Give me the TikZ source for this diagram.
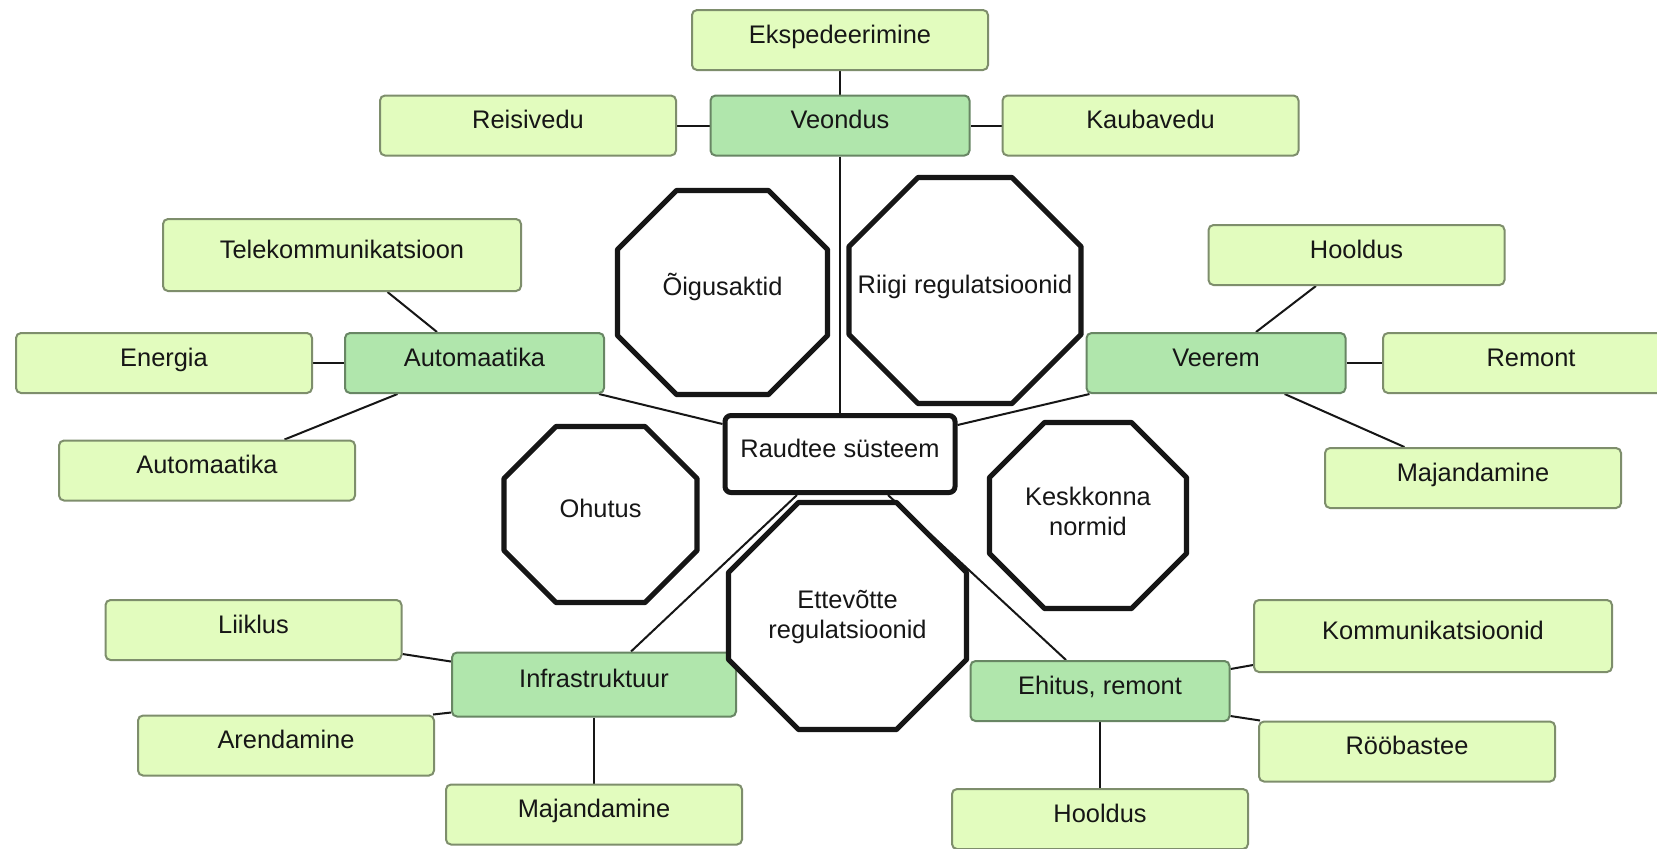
\documentclass[tikz,border=0pt]{standalone}
\usepackage{fontspec}
\setmainfont{Liberation Sans}
\usetikzlibrary{calc}

\definecolor{leafFill}{RGB}{226,252,190}
\definecolor{leafLine}{RGB}{126,142,108}
\definecolor{hubFill}{RGB}{176,230,172}
\definecolor{hubLine}{RGB}{104,134,100}
\definecolor{ink}{RGB}{22,22,22}

\pgfdeclarelayer{bg}
\pgfdeclarelayer{links}
\pgfdeclarelayer{boxes}
\pgfdeclarelayer{octs}
\pgfsetlayers{bg,links,boxes,octs,main}

\tikzset{
  every node/.style={font=\fontsize{12.7}{15}\selectfont, text=ink},
  onelinetext/.style={text height=9.3pt, text depth=5.9pt},
  leaf/.style={draw=leafLine, fill=leafFill, line width=1pt, rounded corners=2.5pt,
    inner sep=0pt, onelinetext, minimum width=#1, minimum height=30pt},
  leaf/.default=148pt,
  hub/.style={leaf=#1, draw=hubLine, fill=hubFill},
  hub/.default=129.5pt,
  tall/.style={minimum height=36pt},
  core/.style={draw=ink, fill=white, line width=2.5pt, rounded corners=3pt,
    inner sep=0pt, onelinetext, minimum width=115pt, minimum height=38.5pt},
  octnode/.style n args={2}{inner sep=0pt, outer sep=0pt, align=center,
    minimum width=#1, minimum height=#2},
  octline/.style={draw=ink, fill=white, line width=2.6pt, line join=round},
  link/.style={draw=ink, line width=1pt},
}

% octagonal frame around a named node, #2 = size of the cut corners
\newcommand\octframe[2]{%
  \begin{pgfonlayer}{octs}
    \path[octline]
      ([xshift=#2]#1.north west) -- ([xshift=-#2]#1.north east)
      -- ([yshift=-#2]#1.north east) -- ([yshift=#2]#1.south east)
      -- ([xshift=-#2]#1.south east) -- ([xshift=#2]#1.south west)
      -- ([yshift=#2]#1.south west) -- ([yshift=-#2]#1.north west) -- cycle;
  \end{pgfonlayer}}

\begin{document}
\begin{tikzpicture}[x=0.5pt, y=-0.5pt]
\useasboundingbox (0,0) rectangle (1657,848);
\begin{pgfonlayer}{bg}
  \fill[white] (0,0) rectangle (1657,848);
\end{pgfonlayer}

% ---- rectangular boxes ----
\begin{pgfonlayer}{boxes}
  % Veondus branch
  \node[leaf] (eksp) at (840,40) {Ekspedeerimine};
  \node[leaf] (reisi) at (528,125.5) {Reisivedu};
  \node[hub] (veondus) at (840,125.5) {Veondus};
  \node[leaf] (kauba) at (1150.5,125.5) {Kaubavedu};
  % Automaatika branch
  \node[leaf=179pt, tall] (tele) at (342,255) {Telekommunikatsioon};
  \node[leaf] (energia) at (164,363) {Energia};
  \node[hub] (autoD) at (474.5,363) {Automaatika};
  \node[leaf] (autoL) at (207,470.5) {Automaatika};
  % Veerem branch
  \node[leaf] (hoolT) at (1356.5,255) {Hooldus};
  \node[hub] (veerem) at (1216,363) {Veerem};
  \node[leaf] (remont) at (1531,363) {Remont};
  \node[leaf] (majR) at (1473,478) {Majandamine};
  % Infrastruktuur branch
  \node[leaf] (liiklus) at (253.5,630) {Liiklus};
  \node[hub=142pt, minimum height=32pt] (infra) at (594,684.5) {Infrastruktuur};
  \node[leaf] (arend) at (286,745.5) {Arendamine};
  \node[leaf] (majB) at (594,814.5) {Majandamine};
  % Ehitus branch
  \node[hub] (ehitus) at (1100,691) {Ehitus, remont};
  \node[leaf=179pt, tall] (komm) at (1433,636) {Kommunikatsioonid};
  \node[leaf] (roob) at (1407,751.5) {Rööbastee};
  \node[leaf] (hoolB) at (1100,819) {Hooldus};
\end{pgfonlayer}

% ---- centre ----
\node[core] (raud) at (840,454) {Raudtee süsteem};

% ---- octagons ----
\node[octnode={105pt}{102pt}, onelinetext] (oig) at (722.5,292.5) {Õigusaktid};
\octframe{oig}{29.5pt}
\node[octnode={116pt}{113pt}, onelinetext] (riigi) at (965,290.5) {Riigi regulatsioonid};
\octframe{riigi}{34.5pt}
\node[octnode={96.5pt}{88pt}, onelinetext] (ohutus) at (600.5,514.5) {Ohutus};
\octframe{ohutus}{26pt}
\node[octnode={98.5pt}{93pt}, text height=24.3pt, text depth=4.8pt] (kesk) at (1088,515.5) {Keskkonna\\normid};
\octframe{kesk}{27.5pt}
\node[octnode={119pt}{113.5pt}, text height=24.3pt, text depth=1.5pt] (ettev) at (847.5,616) {Ettevõtte\\regulatsioonid};
\octframe{ettev}{35pt}

% ---- connectors ----
\begin{pgfonlayer}{links}
  \draw[link] (eksp.south) -- (veondus.north);
  \draw[link] (reisi.east) -- (veondus.west);
  \draw[link] (kauba.west) -- (veondus.east);
  \draw[link] (veondus.south) -- (raud.north);

  \draw[link] ([xshift=22.75pt]tele.south) -- ([xshift=-18.75pt]autoD.north);
  \draw[link] (energia.east) -- (autoD.west);
  \draw[link] ([xshift=38.75pt]autoL.north) -- ([xshift=-38.5pt]autoD.south);
  \draw[link] ([xshift=-3pt]autoD.south east) -- ([yshift=15pt]raud.west);

  \draw[link] ([xshift=-20.3pt]hoolT.south) -- ([xshift=20pt]veerem.north);
  \draw[link] (veerem.east) -- (remont.west);
  \draw[link] ([xshift=34.3pt]veerem.south) -- ([xshift=-34.3pt]majR.north);
  \draw[link] ([xshift=2pt]veerem.south west) -- ([yshift=14.5pt]raud.east);

  \draw[link] ([xshift=-21.5pt]raud.south) -- ([xshift=18.5pt]infra.north);
  \draw[link] ([yshift=3.5pt]liiklus.south east) -- ([yshift=-5pt]infra.north west);
  \draw[link] ([xshift=-1pt]arend.north east) -- ([yshift=2.5pt]infra.south west);
  \draw[link] (infra.south) -- (majB.north);

  \draw[link] ([xshift=24pt]raud.south) -- ([xshift=-17pt]ehitus.north);
  \draw[link] ([yshift=-4.5pt]ehitus.north east) -- ([yshift=4pt]komm.south west);
  \draw[link] ([yshift=3pt]ehitus.south east) -- ([xshift=1pt]roob.north west);
  \draw[link] (ehitus.south) -- (hoolB.north);
\end{pgfonlayer}
\end{tikzpicture}
\end{document}
